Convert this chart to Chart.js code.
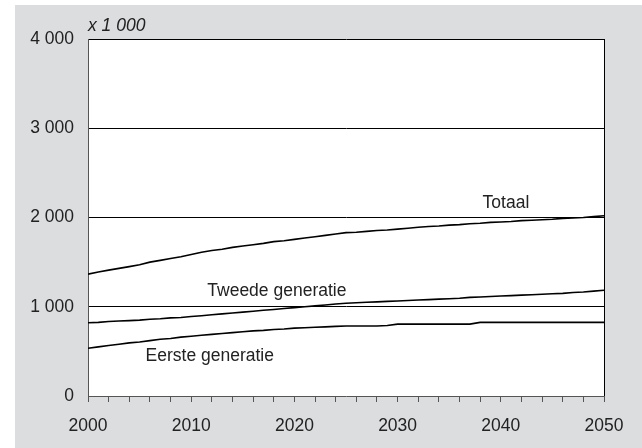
<!DOCTYPE html>
<html>
<head>
<meta charset="utf-8">
<script src="https://cdn.jsdelivr.net/npm/chart.js@4.4.1/dist/chart.umd.min.js"></script>
<style>
  html, body { margin: 0; padding: 0; background: #fff; }
  #wrap { width: 642px; height: 448px; }
</style>
</head>
<body>
<div id="wrap"><canvas id="popChart" width="642" height="448"></canvas></div>
<script>
// yearly values, x 1 000
const years = [2000, 2001, 2002, 2003, 2004, 2005, 2006, 2007, 2008, 2009,
    2010, 2011, 2012, 2013, 2014, 2015, 2016, 2017, 2018, 2019,
    2020, 2021, 2022, 2023, 2024, 2025, 2026, 2027, 2028, 2029,
    2030, 2031, 2032, 2033, 2034, 2035, 2036, 2037, 2038, 2039,
    2040, 2041, 2042, 2043, 2044, 2045, 2046, 2047, 2048, 2049, 2050];

const totaal = [1365, 1390, 1410, 1430, 1450, 1470, 1500, 1520, 1540, 1560,
    1585, 1610, 1630, 1645, 1665, 1680, 1695, 1710, 1730, 1740,
    1755, 1770, 1785, 1800, 1815, 1830, 1835, 1845, 1855, 1860,
    1870, 1880, 1890, 1900, 1905, 1915, 1920, 1930, 1935, 1945,
    1950, 1955, 1965, 1970, 1975, 1980, 1990, 1995, 2000, 2010, 2020];

const tweedeGeneratie = [820, 825, 835, 840, 845, 850, 860, 865, 875, 880,
    890, 900, 910, 920, 930, 940, 950, 960, 970, 980,
    990, 1000, 1010, 1020, 1030, 1040, 1045, 1050, 1055, 1060,
    1065, 1070, 1075, 1080, 1085, 1090, 1095, 1105, 1110, 1115,
    1120, 1125, 1130, 1135, 1140, 1145, 1150, 1160, 1165, 1175, 1185];

const eersteGeneratie = [535, 550, 565, 580, 595, 605, 620, 635, 645, 660,
    670, 680, 690, 700, 710, 720, 730, 735, 745, 750,
    760, 765, 770, 775, 780, 785, 785, 785, 785, 790,
    805, 805, 805, 805, 805, 805, 805, 805, 825, 825,
    825, 825, 825, 825, 825, 825, 825, 825, 825, 825, 825];

const yTicks = [0, 1000, 2000, 3000, 4000];
const xLabelYears = [2000, 2010, 2020, 2030, 2040, 2050];

// text placed on the chart: [text, year, value]
const seriesLabels = [
    ['Totaal', 2040.5, 2160],
    ['Tweede generatie', 2018.3, 1178],
    ['Eerste generatie', 2011.8, 447],
];

const FONT = '"Liberation Sans", Arial, sans-serif';
const SIZE = 17.5;
const TEXT = '#222';

const toPoints = values => values.map((v, i) => ({ x: years[i], y: v }));

const lineStyle = {
    borderColor: '#000',
    borderWidth: 1.6,
    pointRadius: 0,
    fill: false,
    tension: 0,
};

const decor = {
    id: 'decor',
    beforeDraw(chart) {
        const c = chart.ctx;
        const a = chart.chartArea;
        c.save();
        c.fillStyle = '#dcdddf';
        c.fillRect(15, 5, chart.width - 15, chart.height - 5);
        c.fillStyle = '#fff';
        c.fillRect(a.left, a.top, a.right - a.left, a.bottom - a.top);
        c.restore();
    },
    afterDraw(chart) {
        const c = chart.ctx;
        const a = chart.chartArea;
        const xs = chart.scales.x;
        const ys = chart.scales.y;
        c.save();
        c.strokeStyle = '#000';
        c.lineWidth = 1;
        c.beginPath();
        c.moveTo(Math.round(a.right) + 0.5, a.top);
        c.lineTo(Math.round(a.right) + 0.5, a.bottom);
        c.stroke();

        c.fillStyle = TEXT;
        c.font = SIZE + 'px ' + FONT;
        c.textAlign = 'center';
        c.textBaseline = 'middle';
        seriesLabels.forEach(([txt, yr, val]) => {
            c.fillText(txt, xs.getPixelForValue(yr), ys.getPixelForValue(val));
        });

        c.font = 'italic ' + SIZE + 'px ' + FONT;
        c.textAlign = 'left';
        c.fillText('x 1 000', a.left, a.top - 13);
        c.restore();
    }
};

const ctx = document.getElementById('popChart').getContext('2d');
new Chart(ctx, {
    type: 'line',
    data: {
        datasets: [
            { label: 'Totaal', data: toPoints(totaal), ...lineStyle },
            { label: 'Tweede generatie', data: toPoints(tweedeGeneratie), ...lineStyle },
            { label: 'Eerste generatie', data: toPoints(eersteGeneratie), ...lineStyle },
        ],
    },
    options: {
        responsive: false,
        animation: false,
        layout: { padding: { top: 39, right: 38, left: 0, bottom: 0 } },
        plugins: {
            legend: { display: false },
            tooltip: { enabled: false },
        },
        scales: {
            x: {
                type: 'linear',
                min: years[0],
                max: years[years.length - 1],
                afterFit: scale => { scale.height = 52; },
                border: { display: true, color: '#555' },
                grid: { drawOnChartArea: false, drawTicks: true, tickLength: 6, color: '#555' },
                ticks: {
                    stepSize: 2,
                    autoSkip: false,
                    maxRotation: 0,
                    padding: 14,
                    color: TEXT,
                    font: { family: FONT, size: SIZE },
                    callback: v => xLabelYears.includes(v) ? String(v) : '',
                },
            },
            y: {
                min: yTicks[0],
                max: yTicks[yTicks.length - 1],
                afterFit: scale => { scale.width = 88; },
                border: { display: true, color: '#555' },
                grid: {
                    drawTicks: false,
                    lineWidth: 1,
                    color: c => (c.tick && c.tick.value === 0) ? 'rgba(0,0,0,0)' : '#000',
                },
                ticks: {
                    stepSize: 1000,
                    padding: 14,
                    color: TEXT,
                    font: { family: FONT, size: SIZE },
                    callback: v => v === 0 ? '0' : (v / 1000) + ' 000',
                },
            },
        },
    },
    plugins: [decor],
});
</script>
</body>
</html>
